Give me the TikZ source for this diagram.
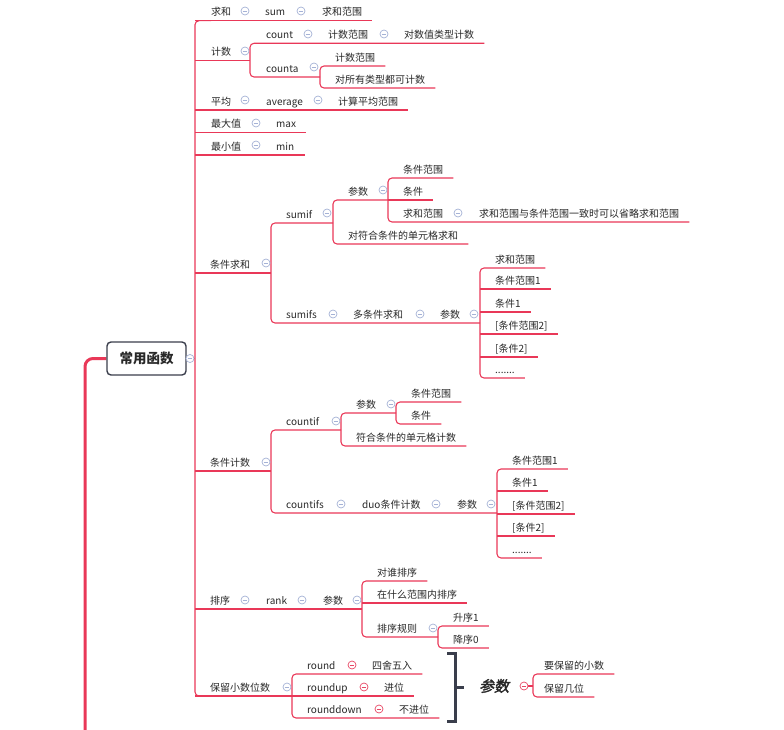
\documentclass[tikz,border=0pt]{standalone}
\usepackage{fontspec}
\setmainfont{Noto Sans CJK SC}
\newfontfamily\slantfont[FakeSlant=0.22, FakeBold=2.2]{Noto Sans CJK SC}
\usetikzlibrary{positioning,calc,backgrounds}

\definecolor{linkred}{RGB}{233,56,88}
\definecolor{foldblue}{RGB}{165,178,214}
\definecolor{foldred}{RGB}{232,70,100}
\definecolor{rootgray}{RGB}{58,62,76}
\definecolor{textgray}{RGB}{40,40,40}

\begin{document}
\begin{tikzpicture}[
  x=1pt, y=-1pt,
  font=\fontsize{10pt}{12pt}\selectfont,
  text=textgray,
  topic/.style={anchor=south west, inner sep=0pt, text height=8.5pt, text depth=4.7pt},
  rootbox/.style={draw=rootgray, line width=1.4pt, rounded corners=4pt, minimum width=79pt, minimum height=33pt, font=\fontsize{13.5pt}{16pt}\selectfont\bfseries},
  foldsym/.style={circle, draw=#1, fill=white, line width=0.7pt, minimum size=8pt, inner sep=0pt,
    path picture={\draw[#1, line width=0.7pt] ([xshift=-2.3pt]path picture bounding box.center) -- ([xshift=2.3pt]path picture bounding box.center);}},
  foldsym/.default=foldblue,
  link/.style={draw=linkred, line width=1.1pt, rounded corners=4pt},
  trunk/.style={draw=linkred, line width=3pt, rounded corners=8pt},
  bracket/.style={draw=rootgray, line width=3pt},
  summary/.style={inner sep=0pt, font=\slantfont\fontsize{15pt}{18pt}\selectfont}
]
\useasboundingbox (0,0) rectangle (784,730);

% root
\node[rootbox] (root) at (146.5,358.5) {常用函数};
\node[foldsym] (f-root) at (190,358.5) {};
\coordinate (v0) at (195,358.5);
\coordinate (trunkend) at (85,732);

% first level
\node[topic] (qiuhe) at (211,20.7) {求和};
\node[topic] (jishu) at (211,60.7) {计数};
\node[topic] (pingjun) at (211,110) {平均};
\node[topic] (zuida) at (211,132.7) {最大值};
\node[topic] (zuixiao) at (211,155) {最小值};
\node[topic] (tjqh) at (210,273) {条件求和};
\node[topic] (tjjs) at (210,471) {条件计数};
\node[topic] (paixu) at (210,609) {排序};
\node[topic] (blxs) at (210,696) {保留小数位数};

% sum
\node[foldsym] (f-qh) at (245,11) {};
\node[topic] (sum) at (265,20.7) {sum};
\node[foldsym] (f-sum) at (301,11) {};
\node[topic] (qhfw1) at (322,20.7) {求和范围};

% count / counta
\node[foldsym] (f-js) at (245,51) {};
\coordinate (vjs) at (250,60.7);
\node[topic] (count) at (266,43.3) {count};
\node[foldsym] (f-cnt) at (308,34) {};
\node[topic] (jsfw1) at (328,43.3) {计数范围};
\node[foldsym] (f-jsfw1) at (384,34) {};
\node[topic] (dszlx) at (404,43.3) {对数值类型计数};
\node[topic] (counta) at (266,77) {counta};
\node[foldsym] (f-cnta) at (314,67) {};
\coordinate (vca) at (320,77);
\node[topic] (jsfw2) at (335,66) {计数范围};
\node[topic] (dsylx) at (335,88) {对所有类型都可计数};

% average, max, min
\node[foldsym] (f-pj) at (245,100) {};
\node[topic] (average) at (266,110) {average};
\node[foldsym] (f-avg) at (318,100) {};
\node[topic] (jspjfw) at (338,110) {计算平均范围};
\node[foldsym] (f-zd) at (256,123) {};
\node[topic] (max) at (276,132.7) {max};
\node[foldsym] (f-zx) at (256,145) {};
\node[topic] (min) at (276,155) {min};

% sumif / sumifs
\node[foldsym] (f-tjqh) at (266,263) {};
\coordinate (vtjqh) at (271,273);
\node[topic] (sumif) at (286,223) {sumif};
\node[foldsym] (f-sumif) at (327,213) {};
\coordinate (vsumif) at (333,223);
\node[topic] (csA) at (348,200) {参数};
\node[foldsym] (f-csA) at (383,190) {};
\coordinate (vcsA) at (388,200);
\node[topic] (tjfwA) at (403,178) {条件范围};
\node[topic] (tjA) at (403,200) {条件};
\node[topic] (qhfwA) at (403,222) {求和范围};
\node[foldsym] (f-qhfwA) at (458,213) {};
\node[topic] (shengl) at (479,222) {求和范围与条件范围一致时可以省略求和范围};
\node[topic] (dfhqh) at (348,244) {对符合条件的单元格求和};
\node[topic] (sumifs) at (286,323) {sumifs};
\node[foldsym] (f-sumifs) at (333,314) {};
\node[topic] (dtjqh) at (353,323) {多条件求和};
\node[foldsym] (f-dtjqh) at (420,314) {};
\node[topic] (csB) at (440,323) {参数};
\node[foldsym] (f-csB) at (474,314) {};
\coordinate (vcsB) at (480,323);
\node[topic] (B1) at (495,268) {求和范围};
\node[topic] (B2) at (495,289) {条件范围1};
\node[topic] (B3) at (495,312) {条件1};
\node[topic] (B4) at (495,334) {[条件范围2]};
\node[topic] (B5) at (495,357) {[条件2]};
\node[topic] (B6) at (495,378) {.......};

% countif / countifs
\node[foldsym] (f-tjjs) at (266,462) {};
\coordinate (vtjjs) at (271,471);
\node[topic] (countif) at (286,430) {countif};
\node[foldsym] (f-countif) at (336,421) {};
\coordinate (vcountif) at (341,430);
\node[topic] (csC) at (356,413) {参数};
\node[foldsym] (f-csC) at (391,404) {};
\coordinate (vcsC) at (396,413);
\node[topic] (tjfwC) at (411,402) {条件范围};
\node[topic] (tjC) at (411,424) {条件};
\node[topic] (fhjs) at (356,446) {符合条件的单元格计数};
\node[topic] (countifs) at (286,513) {countifs};
\node[foldsym] (f-countifs) at (341,504) {};
\node[topic] (duo) at (362,513) {duo条件计数};
\node[foldsym] (f-duo) at (436,504) {};
\node[topic] (csD) at (457,513) {参数};
\node[foldsym] (f-csD) at (491,504) {};
\coordinate (vcsD) at (497,513);
\node[topic] (D1) at (512,469) {条件范围1};
\node[topic] (D2) at (512,491) {条件1};
\node[topic] (D3) at (512,514) {[条件范围2]};
\node[topic] (D4) at (512,536) {[条件2]};
\node[topic] (D5) at (512,558) {.......};

% rank
\node[foldsym] (f-px) at (245,600) {};
\node[topic] (rank) at (266,609) {rank};
\node[foldsym] (f-rank) at (302,600) {};
\node[topic] (csE) at (323,609) {参数};
\node[foldsym] (f-csE) at (357,600) {};
\coordinate (vcsE) at (362,609);
\node[topic] (dspx) at (377,581) {对谁排序};
\node[topic] (zsmfw) at (377,603) {在什么范围内排序};
\node[topic] (pxgz) at (377,637) {排序规则};
\node[foldsym] (f-pxgz) at (433,628) {};
\coordinate (vpxgz) at (438,637);
\node[topic] (sx1) at (453,626) {升序1};
\node[topic] (jx0) at (453,648) {降序0};

% round
\node[foldsym] (f-blxs) at (287,687) {};
\coordinate (vblxs) at (292,696);
\node[topic] (round) at (307,674) {round};
\node[foldsym=foldred] (f-round) at (352,665) {};
\node[topic] (sswr) at (372,674) {四舍五入};
\node[topic] (roundup) at (307,696) {roundup};
\node[foldsym=foldred] (f-roundup) at (364,687) {};
\node[topic] (jw) at (384,696) {进位};
\node[topic] (rounddown) at (307,718) {rounddown};
\node[foldsym=foldred] (f-rounddown) at (379,709) {};
\node[topic] (bjw) at (399,718) {不进位};

% summary
\draw[bracket] (447,653) -- (455,653) -- (455,721) -- (447,721);
\draw[bracket] (455,687) -- (464,687);
\node[summary] (cssum) at (494,686) {参数};
\node[foldsym=foldred] (f-cssum) at (524,686) {};
\coordinate (vcssum) at (533,686);
\node[topic] (yblxs) at (544,674) {要保留的小数};
\node[topic] (bljw) at (544,697) {保留几位};

\begin{scope}[on background layer]
  \draw[trunk] (root.west) -| (trunkend);
  \draw[link] (root.east) -- (v0);
  \draw[link] (qiuhe.south west) -- (v0 |- qiuhe.south) -- (v0 |- blxs.south) -- (blxs.south west);

  \draw[link] (v0 |- qiuhe.south) -- ([xshift=10]qhfw1.south east);
  \draw[link] (v0 |- jishu.south) -- (vjs);
  \draw[link] (v0 |- pingjun.south) -- ([xshift=10]jspjfw.south east);
  \draw[link] (v0 |- zuida.south) -- ([xshift=10]max.south east);
  \draw[link] (v0 |- zuixiao.south) -- ([xshift=10]min.south east);
  \draw[link] (v0 |- tjqh.south) -- (vtjqh);
  \draw[link] (v0 |- tjjs.south) -- (vtjjs);
  \draw[link] (v0 |- paixu.south) -- (vcsE);
  \draw[link] (v0 |- blxs.south) -- (vblxs);

  \draw[link] ([xshift=10]dszlx.south east) -- (vjs |- count.south) -- (vjs |- counta.south) -- (vca);
  \draw[link] ([xshift=10]jsfw2.south east) -- (vca |- jsfw2.south) -- (vca |- dsylx.south) -- ([xshift=10]dsylx.south east);

  \draw[link] (vsumif) -- (vtjqh |- sumif.south) -- (vtjqh |- sumifs.south) -- (vcsB);
  \draw[link] (vcsA) -- (vsumif |- csA.south) -- (vsumif |- dfhqh.south) -- ([xshift=10]dfhqh.south east);
  \draw[link] ([xshift=10]tjfwA.south east) -- (vcsA |- tjfwA.south) -- (vcsA |- qhfwA.south) -- ([xshift=10]shengl.south east);
  \draw[link] (vcsA |- tjA.south) -- ([xshift=10]tjA.south east);
  \draw[link] ([xshift=10]B1.south east) -- (vcsB |- B1.south) -- (vcsB |- B6.south) -- ([xshift=10]B6.south east);
  \draw[link] (vcsB |- B2.south) -- ([xshift=10]B2.south east);
  \draw[link] (vcsB |- B3.south) -- ([xshift=10]B3.south east);
  \draw[link] (vcsB |- B4.south) -- ([xshift=10]B4.south east);
  \draw[link] (vcsB |- B5.south) -- ([xshift=10]B5.south east);

  \draw[link] (vcountif) -- (vtjjs |- countif.south) -- (vtjjs |- countifs.south) -- (vcsD);
  \draw[link] (vcsC) -- (vcountif |- csC.south) -- (vcountif |- fhjs.south) -- ([xshift=10]fhjs.south east);
  \draw[link] ([xshift=10]tjfwC.south east) -- (vcsC |- tjfwC.south) -- (vcsC |- tjC.south) -- ([xshift=10]tjC.south east);
  \draw[link] ([xshift=10]D1.south east) -- (vcsD |- D1.south) -- (vcsD |- D5.south) -- ([xshift=10]D5.south east);
  \draw[link] (vcsD |- D2.south) -- ([xshift=10]D2.south east);
  \draw[link] (vcsD |- D3.south) -- ([xshift=10]D3.south east);
  \draw[link] (vcsD |- D4.south) -- ([xshift=10]D4.south east);

  \draw[link] ([xshift=10]dspx.south east) -- (vcsE |- dspx.south) -- (vcsE |- pxgz.south) -- (vpxgz);
  \draw[link] (vcsE |- zsmfw.south) -- ([xshift=10]zsmfw.south east);
  \draw[link] ([xshift=10]sx1.south east) -- (vpxgz |- sx1.south) -- (vpxgz |- jx0.south) -- ([xshift=10]jx0.south east);

  \draw[link] ([xshift=10]sswr.south east) -- (vblxs |- round.south) -- (vblxs |- rounddown.south) -- ([xshift=10]bjw.south east);
  \draw[link] (vblxs |- roundup.south) -- ([xshift=10]jw.south east);

  \draw[link] (f-cssum.east) -- (vcssum);
  \draw[link] ([xshift=10]yblxs.south east) -- (vcssum |- yblxs.south) -- (vcssum |- bljw.south) -- ([xshift=10]bljw.south east);
\end{scope}
\end{tikzpicture}
\end{document}
